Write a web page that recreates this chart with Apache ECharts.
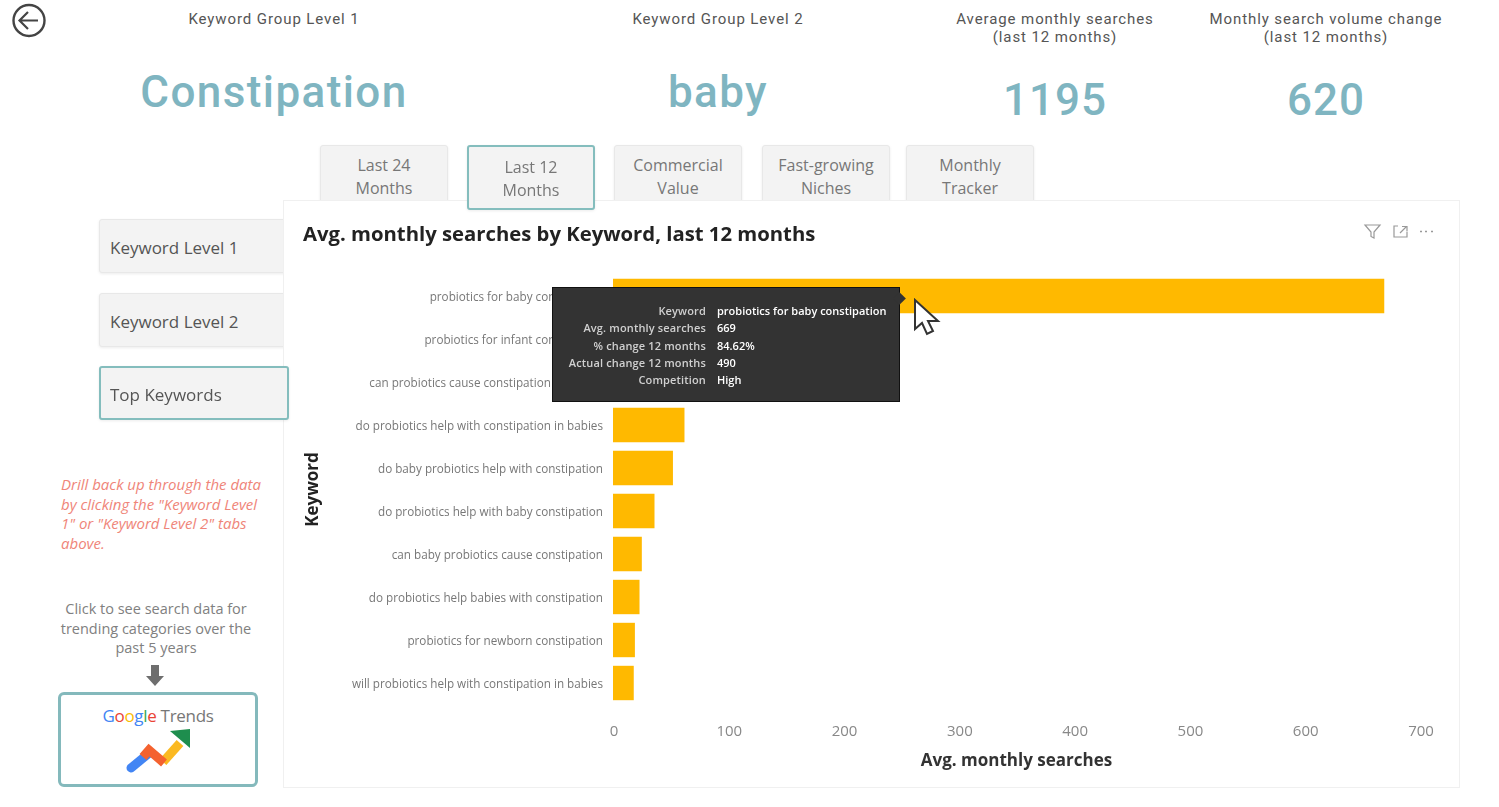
<!DOCTYPE html>
<html>
<head>
<meta charset="utf-8">
<title>Avg. monthly searches by Keyword</title>
<script src="https://cdn.jsdelivr.net/npm/echarts@6/dist/echarts.min.js"></script>
<style>
html, body { margin: 0; padding: 0; background: #fff; overflow: hidden; }
body { width: 1499px; height: 807px; position: relative; font-family: "Open Sans", "Noto Sans", sans-serif; }
.abs { position: absolute; }
.head { font-family: Roboto, sans-serif; font-size: 15px; line-height: 18px; color: #555; text-align: center; letter-spacing: .9px; transform: translateX(-50%); white-space: nowrap; }
.big { font-family: Roboto, sans-serif; font-weight: 500; color: #7fb5c1; text-align: center; transform: translateX(-50%); white-space: nowrap; }
.btn { background: #f3f3f3; border: 1px solid #e8e8e8; border-radius: 3px; box-sizing: border-box; color: #777; font-size: 16px; line-height: 23px; text-align: center; box-shadow: 0 1px 3px rgba(0,0,0,.08); }
.side { text-align: left; color: #555; padding-left: 10px; padding-top: 2px; font-size: 17px; line-height: 52px; }
.on { border: 2px solid #84bdbd; z-index: 5; }
.card { left: 283px; top: 200px; width: 1177px; height: 588px; background: #fff; border: 1px solid #f0f0f0; box-sizing: border-box; z-index: 2; }
#main { left: 0; top: 0; width: 1499px; height: 807px; z-index: 3; }
.note { left: 61px; top: 475px; width: 215px; font-size: 15px; line-height: 19.5px; font-style: italic; color: #ef8579; white-space: nowrap; }
.click { left: 51px; top: 599px; width: 210px; font-size: 14.5px; line-height: 19.5px; color: #808080; text-align: center; }
.gt { left: 58px; top: 692px; width: 200px; height: 95px; box-sizing: border-box; border: 3px solid #84b9bc; border-radius: 6px; background: #fff; }
.gtext { left: 0; top: 9px; width: 100%; text-align: center; font-size: 17px; color: #777; letter-spacing: -.3px; }
</style>
</head>
<body>
<svg class="abs" style="left:10px;top:2px" width="38" height="38" viewBox="0 0 38 38">
  <circle cx="19" cy="18.5" r="15.5" fill="none" stroke="#444" stroke-width="2.4"/>
  <path d="M28 18.5H10M18 10l-8.5 8.5L18 27" fill="none" stroke="#444" stroke-width="2.2"/>
</svg>

<div class="abs head" style="left:274px;top:10px">Keyword Group Level 1</div>
<div class="abs head" style="left:718px;top:10px">Keyword Group Level 2</div>
<div class="abs head" style="left:1055px;top:10px">Average monthly searches<br>(last 12 months)</div>
<div class="abs head" style="left:1326px;top:10px">Monthly search volume change<br>(last 12 months)</div>

<div class="abs big" style="left:274px;top:63px;font-size:44px;line-height:58px;letter-spacing:1.4px">Constipation</div>
<div class="abs big" style="left:718px;top:63px;font-size:44px;line-height:58px;letter-spacing:1.4px">baby</div>
<div class="abs big" style="left:1055px;top:71px;font-size:44px;line-height:58px;letter-spacing:1px">1195</div>
<div class="abs big" style="left:1326px;top:71px;font-size:44px;line-height:58px;letter-spacing:1px">620</div>

<div class="abs btn" style="left:320px;top:145px;width:128px;height:62px;padding-top:8px">Last 24<br>Months</div>
<div class="abs btn on" style="left:467px;top:145px;width:128px;height:65px;padding-top:9px">Last 12<br>Months</div>
<div class="abs btn" style="left:614px;top:145px;width:128px;height:62px;padding-top:8px">Commercial<br>Value</div>
<div class="abs btn" style="left:762px;top:145px;width:128px;height:62px;padding-top:8px">Fast-growing<br>Niches</div>
<div class="abs btn" style="left:906px;top:145px;width:128px;height:62px;padding-top:8px">Monthly<br>Tracker</div>

<div class="abs btn side" style="left:99px;top:219px;width:190px;height:54px">Keyword Level 1</div>
<div class="abs btn side" style="left:99px;top:293px;width:190px;height:54px">Keyword Level 2</div>
<div class="abs btn side on" style="left:99px;top:366px;width:190px;height:54px;padding-top:1px;padding-left:9px">Top Keywords</div>

<div class="abs card"></div>

<svg class="abs" style="left:1360px;top:222px;z-index:4" width="80" height="20" viewBox="0 0 80 20" fill="none" stroke="#999" stroke-width="1.2">
  <path d="M5 3h15l-6 7v6l-3-1.5V10z"/>
  <path d="M38 4h-4v11h13v-5M40 11l6-6M42 4.500h5v5"/>
  <path d="M60 9.500h2M65 9.500h2M71 9.500h2" stroke-width="1.6"/>
</svg>

<div class="abs note">Drill back up through the data<br>by clicking the "Keyword Level<br>1" or "Keyword Level 2" tabs<br>above.</div>
<div class="abs click">Click to see search data for trending categories over the past 5 years</div>
<svg class="abs" style="left:145px;top:664px" width="20" height="23" viewBox="0 0 20 23"><path d="M6 1h8v11h5L10 22 1 12h5z" fill="#6e6e6e"/></svg>

<div class="abs gt">
  <div class="abs gtext"><span style="color:#4285f4">G</span><span style="color:#ea4335">o</span><span style="color:#fbbc05">o</span><span style="color:#4285f4">g</span><span style="color:#34a853">l</span><span style="color:#ea4335">e</span> Trends</div>
  <svg class="abs" style="left:63px;top:33px" width="70" height="50" viewBox="0 0 70 50" fill="none" stroke-width="9">
    <path d="M7 40L24 26" stroke="#4285f4" stroke-linecap="round"/>
    <path d="M39 34L56 15" stroke="#fbb921"/>
    <path d="M19 29l6-7 15 13" stroke="#f4622f"/>
    <path d="M46 3l20-2v19z" fill="#1e8e4e" stroke="none"/>
  </svg>
</div>

<div id="main" class="abs"></div>

<svg class="abs" style="left:912px;top:298px;z-index:9" width="30" height="40" viewBox="0 0 30 40">
  <path d="M3 2v29l7-6 5 11 6-3-5-10h10z" fill="#fff" stroke="#333" stroke-width="2"/>
</svg>

<script>
var categories = [
    'probiotics for baby constipation',
    'probiotics for infant constipation',
    'can probiotics cause constipation in babies',
    'do probiotics help with constipation in babies',
    'do baby probiotics help with constipation',
    'do probiotics help with baby constipation',
    'can baby probiotics cause constipation',
    'do probiotics help babies with constipation',
    'probiotics for newborn constipation',
    'will probiotics help with constipation in babies'
];
// bars 2 and 3 sit behind the tooltip in the reference, those two are estimates
var searches = [669, 170, 90, 62, 52, 36, 25, 23, 19, 18];
var xTicks = [0, 100, 200, 300, 400, 500, 600, 700];
var tipLabels = ['Keyword', 'Avg. monthly searches', '% change 12 months', 'Actual change 12 months', 'Competition'];
var tipValues = ['probiotics for baby constipation', '669', '84.62%', '490', 'High'];

var color = '#FFB900';

function tipHtml() {
    var rows = '';
    for (var i in tipLabels) {
        rows += '<div style="height:17.3px;line-height:17.3px;white-space:nowrap">'
            + '<span style="display:inline-block;width:153px;text-align:right;color:#d0d0d0;letter-spacing:.15px">' + tipLabels[i] + '</span>'
            + '<span style="display:inline-block;margin-left:11px;color:#fff">' + tipValues[i] + '</span></div>';
    }
    // the little pointer on the right edge
    var arrow = '<div style="position:absolute;right:-5px;top:6px;width:9px;height:9px;background:#333;transform:rotate(45deg)"></div>';
    return '<div style="position:relative;width:346px;height:113px;box-sizing:border-box;padding-top:14px">' + rows + arrow + '</div>';
}

var myChart = echarts.init(document.getElementById('main'));
var option = {
    animation: false,
    backgroundColor: 'transparent',
    textStyle: { fontFamily: '"Open Sans", "Noto Sans", sans-serif' },
    title: {
        text: 'Avg. monthly searches by Keyword, last 12 months',
        left: 298,
        top: 220,
        textStyle: { color: '#222', fontSize: 20.3, fontWeight: 'bold', fontFamily: '"Open Sans", sans-serif' }
    },
    tooltip: {
        trigger: 'item',
        alwaysShowContent: true,
        transitionDuration: 0,
        position: [552, 287],
        padding: 0,
        borderWidth: 1,
        borderColor: '#111',
        backgroundColor: '#333',
        textStyle: { color: '#fff', fontSize: 11, fontWeight: 600 },
        extraCssText: 'box-shadow:none;border-radius:0;',
        formatter: tipHtml
    },
    grid: {
        left: 613,
        top: 274.5,
        width: 807,
        height: 430
    },
    xAxis: {
        type: 'value',
        min: 0,
        max: 700,
        interval: 100,
        name: 'Avg. monthly searches',
        nameLocation: 'middle',
        nameGap: 48,
        nameTextStyle: { color: '#333', fontSize: 17, fontWeight: 'bold' },
        axisLine: { show: false },
        axisTick: { show: false },
        splitLine: { show: false },
        axisLabel: {
            color: '#888',
            fontSize: 15,
            margin: 20,
            padding: [0, 0, 0, 2],
            formatter: function (v) { return xTicks.indexOf(v) >= 0 ? String(v) : ''; }
        }
    },
    yAxis: {
        type: 'category',
        inverse: true,
        data: categories,
        name: 'Keyword',
        nameLocation: 'middle',
        nameGap: 291,
        nameRotate: 90,
        nameTextStyle: { color: '#222', fontSize: 17, fontWeight: 'bold' },
        axisLine: { show: false },
        axisTick: { show: false },
        axisLabel: {
            margin: 10,
            interval: 0,
            formatter: function (v) { return '{k|' + v + '}'; },
            rich: { k: { color: '#777', fontSize: 11.7, padding: [4, 0, 0, 0] } }
        }
    },
    series: [{
        name: 'Avg. monthly searches',
        type: 'bar',
        data: searches,
        barCategoryGap: '20%',
        itemStyle: { color: color },
        emphasis: { disabled: true }
    }]
};
myChart.setOption(option);
myChart.dispatchAction({ type: 'showTip', seriesIndex: 0, dataIndex: 0 });
</script>
</body>
</html>
